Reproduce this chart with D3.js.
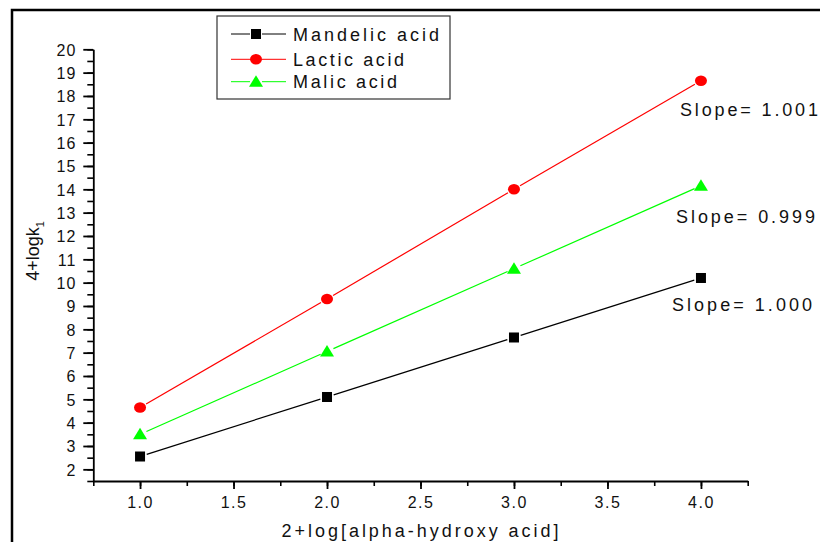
<!DOCTYPE html>
<html><head><meta charset="utf-8">
<script src="https://cdn.jsdelivr.net/npm/d3@7"></script>
<style>
body{margin:0;background:#fff;}
text{font-family:"Liberation Sans",Arial,sans-serif;fill:#111;}
</style></head><body>
<svg id="c" width="820" height="542"></svg>
<script>
const xValues = [1.0, 2.0, 3.0, 4.0];
const mandelic = [2.55, 5.1, 7.65, 10.2];
const lactic = [4.65, 9.3, 14.0, 18.65];
const malic = [3.5, 7.05, 10.6, 14.15];
const seriesNames = ["Mandelic acid", "Lactic acid", "Malic acid"];
const slopeLabels = ["Slope= 1.000", "Slope= 1.001", "Slope= 0.999"];
const xTickValues = [1.0, 1.5, 2.0, 2.5, 3.0, 3.5, 4.0];
const yTickValues = [2,3,4,5,6,7,8,9,10,11,12,13,14,15,16,17,18,19,20];

const svg = d3.select("#c");
svg.append("rect").attr("x",12).attr("y",10).attr("width",830).attr("height",560)
  .attr("fill","none").attr("stroke","#000").attr("stroke-width",2.5);

const x = d3.scaleLinear().domain([0.75, 4.25]).range([93.3, 747.7]);
const y = d3.scaleLinear().domain([1.5, 20]).range([481, 49.3]);

const xMinor = d3.range(0.75, 4.2501, 0.25);
const yMinor = d3.range(1.5, 20.001, 0.5);
const gx = svg.append("g").attr("transform","translate(0,481)");
gx.append("g").call(d3.axisBottom(x).tickValues(xMinor).tickSize(5).tickFormat(""))
  .call(g=>g.selectAll("line").attr("stroke","#000").attr("stroke-width",1.6))
  .call(g=>g.select(".domain").remove());
gx.append("g").call(d3.axisBottom(x).tickValues(xTickValues).tickSize(8).tickSizeOuter(0).tickFormat(d3.format(".1f")))
  .attr("font-size",null).attr("font-family",null)
  .call(g=>g.selectAll("line").attr("stroke","#000").attr("stroke-width",1.8))
  .call(g=>g.select(".domain").attr("stroke","#000").attr("stroke-width",1.8))
  .call(g=>g.selectAll("text").style("font-size","16px").attr("letter-spacing","1.5px").attr("fill","#111")
    .attr("dy",0).attr("y",27));

const gy = svg.append("g").attr("transform","translate(93.3,0)");
gy.append("g").call(d3.axisLeft(y).tickValues(yMinor).tickSize(6).tickFormat(""))
  .call(g=>g.selectAll("line").attr("stroke","#000").attr("stroke-width",1.6))
  .call(g=>g.select(".domain").remove());
gy.append("g").call(d3.axisLeft(y).tickValues(yTickValues).tickSize(10).tickSizeOuter(0).tickFormat(d3.format("d")))
  .attr("font-size",null).attr("font-family",null)
  .call(g=>g.selectAll("line").attr("stroke","#000").attr("stroke-width",1.8))
  .call(g=>g.select(".domain").attr("stroke","#000").attr("stroke-width",1.8))
  .call(g=>g.selectAll("text").style("font-size","16px").attr("letter-spacing","1px").attr("fill","#111")
    .attr("x",-17).attr("dy","0.36em"));

svg.append("text").attr("x",420).attr("y",537).attr("text-anchor","middle")
  .style("font-size","18px").attr("textLength",277).attr("lengthAdjust","spacing")
  .text("2+log[alpha-hydroxy acid]");
const yt = svg.append("text").attr("transform","translate(39,251) rotate(-90)")
  .attr("text-anchor","middle").style("font-size","18px");
yt.append("tspan").text("4+logk");
yt.append("tspan").style("font-size","11px").attr("dy",5).text("1");

const series = [
  {name:seriesNames[0], vals:mandelic, color:"#000000", shape:"square", slope:slopeLabels[0]},
  {name:seriesNames[1], vals:lactic, color:"#ff0000", shape:"circle", slope:slopeLabels[1]},
  {name:seriesNames[2], vals:malic, color:"#00ff00", shape:"triangle", slope:slopeLabels[2]}
];
function marker(g, shape, color, cx, cy){
  if(shape==="square") g.append("rect").attr("x",cx-5).attr("y",cy-5).attr("width",10).attr("height",10).attr("fill",color);
  else if(shape==="circle") g.append("ellipse").attr("cx",cx).attr("cy",cy).attr("rx",6).attr("ry",5.3).attr("fill",color);
  else g.append("path").attr("d",`M${cx},${cy-6.5}L${cx+7},${cy+5}L${cx-7},${cy+5}Z`).attr("fill",color);
}
const gap = 7;
series.forEach(s=>{
  const pts = xValues.map((xv,i)=>[x(xv), y(s.vals[i])]);
  const g = svg.append("g");
  for(let i=0;i<pts.length-1;i++){
    const [x1,y1]=pts[i],[x2,y2]=pts[i+1];
    const L=Math.hypot(x2-x1,y2-y1), ux=(x2-x1)/L, uy=(y2-y1)/L;
    g.append("line").attr("x1",x1+ux*gap).attr("y1",y1+uy*gap).attr("x2",x2-ux*gap).attr("y2",y2-uy*gap)
      .attr("stroke",s.color).attr("stroke-width",1.2);
  }
  pts.forEach(p=>marker(g,s.shape,s.color,p[0],p[1]));
});

const slopePos = [[672,311,140],[680,116,138],[676,223,139]];
series.forEach((s,i)=>{
  svg.append("text").attr("x",slopePos[i][0]).attr("y",slopePos[i][1]).style("font-size","18px")
    .attr("textLength",slopePos[i][2]).attr("lengthAdjust","spacing").text(s.slope);
});

svg.append("rect").attr("x",217).attr("y",16).attr("width",233).attr("height",83)
  .attr("fill","#fff").attr("stroke","#333").attr("stroke-width",1.2);
const legY=[34,59.3,81.7], legW=[146,111,104];
series.forEach((s,i)=>{
  const g=svg.append("g");
  g.append("line").attr("x1",231).attr("x2",250).attr("y1",legY[i]).attr("y2",legY[i]).attr("stroke",s.color).attr("stroke-width",1);
  g.append("line").attr("x1",262).attr("x2",286).attr("y1",legY[i]).attr("y2",legY[i]).attr("stroke",s.color).attr("stroke-width",1);
  marker(g,s.shape,s.color,256,legY[i]);
  g.append("text").attr("x",293).attr("y",legY[i]+6.5).style("font-size","18px")
    .attr("textLength",legW[i]).attr("lengthAdjust","spacing").text(s.name);
});
</script></body></html>
